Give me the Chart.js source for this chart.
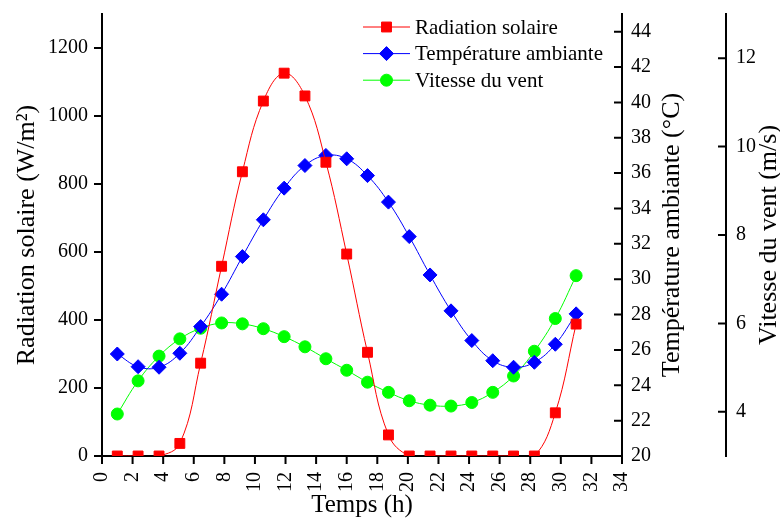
<!doctype html>
<html lang="fr">
<head>
  <meta charset="utf-8">
  <title>Radiation solaire, température et vent</title>
  <script src="https://cdn.jsdelivr.net/npm/chart.js"></script>
  <style>body { margin: 0; background: #fff; }</style>
</head>
<body>
  <canvas id="meteoChart" width="780" height="520"></canvas>

  <script>
    // values
    const hours = [1, 2.36, 3.73, 5.09, 6.45, 7.82, 9.18, 10.55, 11.91, 13.27, 14.64, 16,
                   17.36, 18.73, 20.09, 21.45, 22.82, 24.18, 25.55, 26.91, 28.27, 29.64, 31];
    const radiation = [0, 0, 0, 37, 273, 558, 836, 1044, 1126, 1059, 864, 594,
                       305, 62, 0, 0, 0, 0, 0, 0, 0, 127, 388];
    const temperature = [25.77, 25.05, 25.02, 25.81, 27.32, 29.15, 31.28, 33.36, 35.15, 36.43, 37.0, 36.81,
                         35.86, 34.36, 32.41, 30.24, 28.21, 26.53, 25.39, 25.02, 25.30, 26.32, 28.04];
    const windSpeed = [3.95, 4.70, 5.26, 5.65, 5.89, 6.01, 5.99, 5.88, 5.70, 5.47, 5.20, 4.94,
                       4.67, 4.44, 4.25, 4.15, 4.13, 4.21, 4.44, 4.81, 5.37, 6.11, 7.08];
    const seriesNames = ['Radiation solaire', 'Température ambiante', 'Vitesse du vent'];

    const FONT = '"Liberation Serif", "Times New Roman", serif';
    const toPoints = ys => ys.map((y, i) => ({ x: hours[i], y }));

    // every unit is a tick; only the majors get a label (null = no label, no size)
    const stepTicks = (min, max, step) => scale => {
      const t = [];
      for (let v = min; v <= max + 1e-9; v += step) t.push({ value: v });
      scale.ticks = t;
    };
    const every = n => v => (Math.abs(v % n) < 1e-9 ? v : null);

    // fixed box sizes so the plot sits where the original does
    const fixWidth = w => s => { s.width = w; s.paddingTop = 0; s.paddingBottom = 0; };

    function axis(opts) {
      return Object.assign({
        type: 'linear',
        grid: { display: false, drawTicks: false },
        border: { display: true, color: '#000', width: 2 }
      }, opts);
    }

    // tick marks drawn by hand: Origin style, short minors
    const tickMarks = {
      id: 'tickMarks',
      afterDraw(chart) {
        const ctx = chart.ctx;
        ctx.save();
        ctx.strokeStyle = '#000';
        ctx.lineWidth = 2;
        ctx.beginPath();
        for (const id of ['x', 'y', 'y1', 'y2']) {
          const s = chart.scales[id];
          s.ticks.forEach(t => {
            const len = t.label != null && t.label !== '' ? 8 : 4;
            const p = s.getPixelForValue(t.value);
            if (id === 'x') {
              ctx.moveTo(p, s.top); ctx.lineTo(p, s.top + len);
            } else if (id === 'y') {
              ctx.moveTo(s.right, p); ctx.lineTo(s.right - len, p);
            } else {
              ctx.moveTo(s.left, p); ctx.lineTo(s.left - len, p);
            }
          });
        }
        ctx.stroke();

        // right hand titles read bottom to top, like the left one
        ctx.fillStyle = '#000';
        ctx.font = '26px ' + FONT;
        ctx.textAlign = 'center';
        ctx.textBaseline = 'middle';
        const cy = (chart.chartArea.top + chart.chartArea.bottom) / 2;
        [['y1', 'Température ambiante (°C)', 50], ['y2', 'Vitesse du vent (m/s)', 43]].forEach(([id, text, dx]) => {
          ctx.save();
          ctx.translate(chart.scales[id].left + dx, cy);
          ctx.rotate(-Math.PI / 2);
          ctx.fillText(text, 0, 0);
          ctx.restore();
        });
        ctx.restore();
      }
    };

    // legend inside the plot, top right
    const insideLegend = {
      id: 'insideLegend',
      afterDraw(chart) {
        const ctx = chart.ctx;
        ctx.save();
        ctx.font = '21px ' + FONT;
        ctx.textBaseline = 'middle';
        ctx.textAlign = 'left';
        chart.data.datasets.forEach((ds, i) => {
          const y = 27 + i * 26.6;
          ctx.strokeStyle = ds.borderColor;
          ctx.lineWidth = 1;
          ctx.beginPath();
          ctx.moveTo(363, y); ctx.lineTo(410, y);
          ctx.stroke();
          ctx.fillStyle = ds.pointBackgroundColor;
          Chart.helpers.drawPoint(ctx, { pointStyle: ds.pointStyle, radius: ds.pointRadius, rotation: 0, borderWidth: 1 }, 386.5, y);
          ctx.fillStyle = '#000';
          ctx.fillText(ds.label, 415, y + 1);
        });
        ctx.restore();
      }
    };

    const tickFont = { family: FONT, size: 20 };
    const ctx = document.getElementById('meteoChart').getContext('2d');
    new Chart(ctx, {
      type: 'line',
      data: {
        datasets: [
          {
            label: seriesNames[0], data: toPoints(radiation), yAxisID: 'y',
            borderColor: '#ff0000', pointBackgroundColor: '#ff0000', pointBorderColor: '#ff0000',
            pointStyle: 'rect', pointRadius: 7
          },
          {
            label: seriesNames[1], data: toPoints(temperature), yAxisID: 'y1',
            borderColor: '#0000ff', pointBackgroundColor: '#0000ff', pointBorderColor: '#0000ff',
            pointStyle: 'rectRot', pointRadius: 7
          },
          {
            label: seriesNames[2], data: toPoints(windSpeed), yAxisID: 'y2',
            borderColor: '#00ff00', pointBackgroundColor: '#00ff00', pointBorderColor: '#00ff00',
            pointStyle: 'circle', pointRadius: 6
          }
        ]
      },
      options: {
        responsive: false,
        animation: false,
        layout: { padding: { top: 14, left: 0, right: 0, bottom: 0 } },
        elements: {
          line: { borderWidth: 1, tension: 0.4, fill: false, capBezierPoints: false },
          point: { borderWidth: 1, hoverRadius: 7 }
        },
        plugins: { legend: { display: false }, tooltip: { enabled: false } },
        scales: {
          x: axis({
            position: 'bottom', min: 0, max: 34,
            afterBuildTicks: stepTicks(0, 34, 1),
            afterFit: s => { s.height = 64; s.paddingLeft = 0; s.paddingRight = 0; },
            ticks: {
              color: '#000', font: tickFont,
              autoSkip: false, minRotation: 90, maxRotation: 90, padding: 16,
              callback: every(2)
            },
            title: { display: true, text: 'Temps (h)', color: '#000', font: { family: FONT, size: 25 }, padding: { top: 0, bottom: 0 } }
          }),
          y: axis({
            position: 'left', min: 0, max: 1300,
            afterBuildTicks: stepTicks(0, 1300, 100),
            afterFit: fixWidth(102),
            ticks: { color: '#000', font: tickFont, padding: 14, autoSkip: false, callback: every(200) },
            title: { display: true, text: 'Radiation solaire (W/m²)', color: '#000', font: { family: FONT, size: 26 }, padding: { top: 12, bottom: 0 } }
          }),
          y1: axis({
            position: 'right', min: 20, max: 45,
            afterBuildTicks: stepTicks(20, 45, 1),
            afterFit: fixWidth(104),
            ticks: { color: '#000', font: tickFont, padding: 9, autoSkip: false, callback: every(2) }
          }),
          y2: axis({
            position: 'right', min: 3, max: 13,
            afterBuildTicks: stepTicks(3, 13, 1),
            afterFit: fixWidth(54),
            ticks: { color: '#000', font: tickFont, padding: 10, autoSkip: false, callback: every(2) }
          })
        }
      },
      plugins: [tickMarks, insideLegend]
    });
  </script>
</body>
</html>
